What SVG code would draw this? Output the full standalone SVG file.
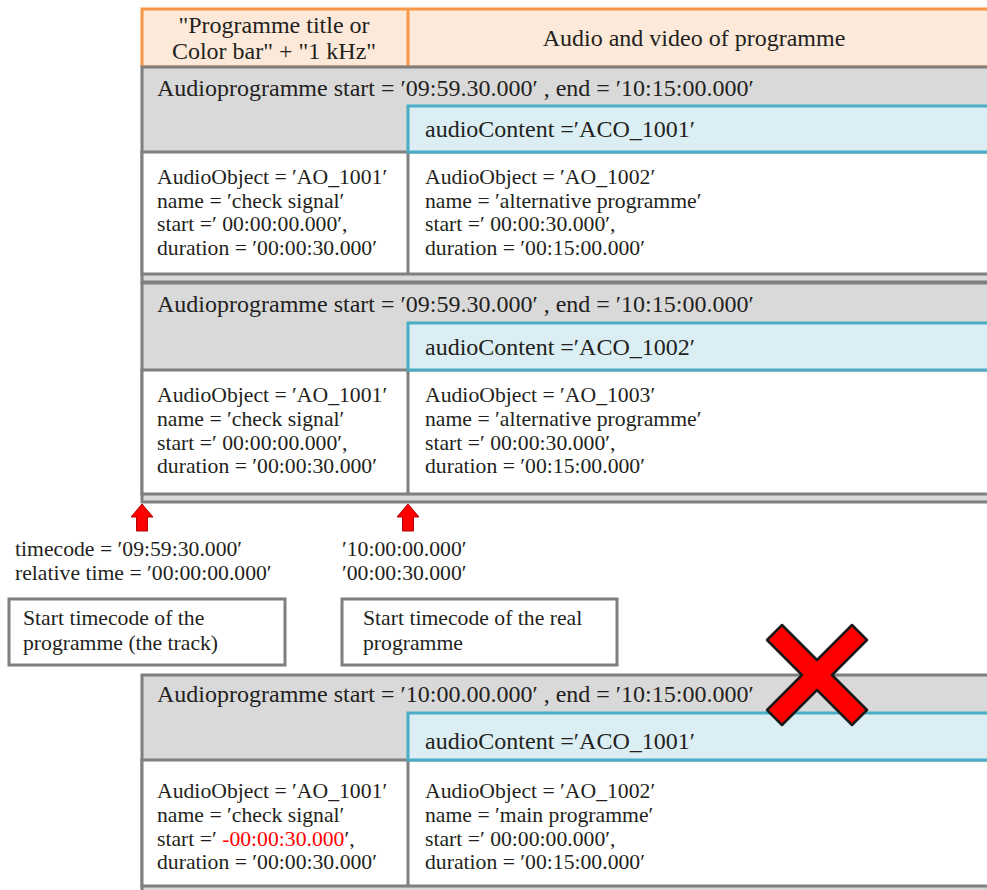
<svg xmlns="http://www.w3.org/2000/svg" width="987" height="890" viewBox="0 0 987 890" font-family="Liberation Serif, DejaVu Serif, serif">
  <style>
    text { font-family: 'Liberation Serif', 'DejaVu Serif', serif; fill: #231f20; }
    .big { font-size: 24px; }
    .sm { font-size: 21.7px; }
    .hdr { fill: #fde9d9; stroke: #f79646; stroke-width: 3; }
    .band { fill: #d9d9d9; stroke: #7f7f7f; stroke-width: 3; }
    .cell { fill: #ffffff; stroke: #7f7f7f; stroke-width: 3; }
    .ac { fill: #daeef3; stroke: #4bacc6; stroke-width: 3; }
    .div { stroke: #7f7f7f; stroke-width: 3; }
    .note { fill: #ffffff; stroke: #7f7f7f; stroke-width: 3; }
    .arrow { fill: #ff0000; stroke: #b00000; stroke-width: 1; }
    .red { fill: #ff0000; }
  </style>

  <!-- timeline header -->
  <g id="header">
    <rect class="hdr" x="142" y="9" width="900" height="58"/>
    <line x1="408" y1="9" x2="408" y2="67" stroke="#f79646" stroke-width="3"/>
    <text class="big" x="274" y="33" text-anchor="middle">"Programme title or</text>
    <text class="big" x="274" y="59" text-anchor="middle">Color bar" + "1 kHz"</text>
    <text class="big" x="694" y="46" text-anchor="middle">Audio and video of programme</text>
  </g>

  <!-- programme variant 1 -->
  <g id="programme1">
    <rect class="band" x="142" y="67" width="900" height="215"/>
    <text class="big" x="157" y="96">Audioprogramme start = ′09:59.30.000′ , end = ′10:15:00.000′</text>
    <rect class="cell" x="142" y="152" width="900" height="122"/>
    <line class="div" x1="408" y1="152" x2="408" y2="274"/>
    <rect class="ac" x="408" y="106" width="700" height="46"/>
    <text class="big" x="425" y="137">audioContent =′ACO_1001′</text>
    <g class="sm">
      <text x="157" y="184">AudioObject = ′AO_1001′</text>
      <text x="157" y="208">name = ′check signal′</text>
      <text x="157" y="231">start =′ 00:00:00.000′,</text>
      <text x="157" y="255">duration = ′00:00:30.000′</text>
      <text x="425" y="184">AudioObject = ′AO_1002′</text>
      <text x="425" y="208">name = ′alternative programme′</text>
      <text x="425" y="231">start =′ 00:00:30.000′,</text>
      <text x="425" y="255">duration = ′00:15:00.000′</text>
    </g>
  </g>

  <!-- programme variant 2 -->
  <g id="programme2">
    <rect class="band" x="142" y="283" width="900" height="219"/>
    <text class="big" x="157" y="312">Audioprogramme start = ′09:59.30.000′ , end = ′10:15:00.000′</text>
    <rect class="cell" x="142" y="370" width="900" height="124"/>
    <line class="div" x1="408" y1="370" x2="408" y2="494"/>
    <rect class="ac" x="408" y="323" width="700" height="47"/>
    <text class="big" x="425" y="355">audioContent =′ACO_1002′</text>
    <g class="sm">
      <text x="157" y="402">AudioObject = ′AO_1001′</text>
      <text x="157" y="426">name = ′check signal′</text>
      <text x="157" y="450">start =′ 00:00:00.000′,</text>
      <text x="157" y="473">duration = ′00:00:30.000′</text>
      <text x="425" y="402">AudioObject = ′AO_1003′</text>
      <text x="425" y="426">name = ′alternative programme′</text>
      <text x="425" y="450">start =′ 00:00:30.000′,</text>
      <text x="425" y="473">duration = ′00:15:00.000′</text>
    </g>
  </g>

  <!-- start markers -->
  <g id="markers">
    <polygon class="arrow" points="142,504 153,517 147.5,517 147.5,531 136.5,531 136.5,517 131,517"/>
    <polygon class="arrow" points="408,504 419,517 413.5,517 413.5,531 402.5,531 402.5,517 397,517"/>
    <text class="sm" x="15" y="556">timecode = ′09:59:30.000′</text>
    <text class="sm" x="15" y="580">relative time = ′00:00:00.000′</text>
    <text class="sm" x="342" y="556">′10:00:00.000′</text>
    <text class="sm" x="342" y="580">′00:00:30.000′</text>
  </g>

  <g id="note-track">
    <rect class="note" x="9" y="599" width="276" height="66"/>
    <text class="sm" x="23" y="625">Start timecode of the</text>
    <text class="sm" x="23" y="650">programme (the track)</text>
  </g>

  <g id="note-real">
    <rect class="note" x="342" y="599" width="275" height="66"/>
    <text class="sm" x="363" y="625">Start timecode of the real</text>
    <text class="sm" x="363" y="650">programme</text>
  </g>

  <!-- programme variant 3 (invalid) -->
  <g id="programme3">
    <rect class="band" x="142" y="675" width="900" height="230"/>
    <text class="big" x="157" y="702">Audioprogramme start = ′10:00.00.000′ , end = ′10:15:00.000′</text>
    <rect class="cell" x="142" y="760" width="900" height="126"/>
    <line class="div" x1="408" y1="760" x2="408" y2="886"/>
    <rect class="ac" x="408" y="713" width="700" height="47"/>
    <text class="big" x="425" y="749">audioContent =′ACO_1001′</text>
    <g class="sm">
      <text x="157" y="798">AudioObject = ′AO_1001′</text>
      <text x="157" y="822">name = ′check signal′</text>
      <text x="157" y="846">start =′ <tspan class="red">-00:00:30.000</tspan>′,</text>
      <text x="157" y="869">duration = ′00:00:30.000′</text>
      <text x="425" y="798">AudioObject = ′AO_1002′</text>
      <text x="425" y="822">name = ′main programme′</text>
      <text x="425" y="846">start =′ 00:00:00.000′,</text>
      <text x="425" y="869">duration = ′00:15:00.000′</text>
    </g>
  </g>

  <!-- cross mark -->
  <g id="cross">
    <polygon transform="translate(817 675)" fill="#ff0000" stroke="#1a1a1a" stroke-width="2.5" stroke-linejoin="round"
      points="-50,-35 -35,-50 0,-15 35,-50 50,-35 15,0 50,35 35,50 0,15 -35,50 -50,35 -15,0"/>
  </g>
</svg>
